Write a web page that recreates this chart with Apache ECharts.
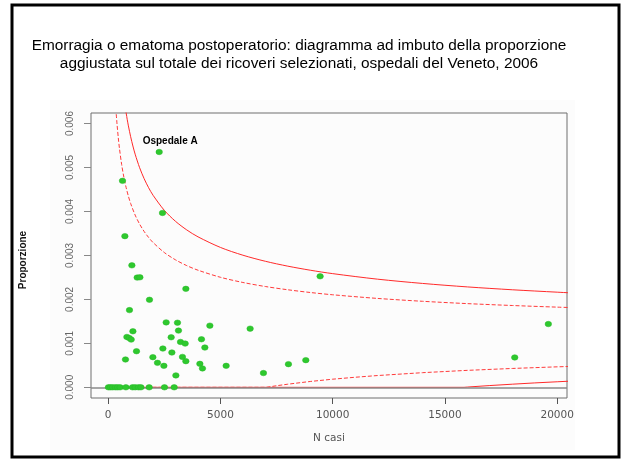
<!DOCTYPE html>
<html>
<head>
<meta charset="utf-8">
<script src="https://cdn.jsdelivr.net/npm/echarts@6/dist/echarts.min.js"></script>
<style>
  html, body { margin: 0; padding: 0; background: #ffffff; }
  #chart { width: 623px; height: 461px; }
</style>
</head>
<body>
<div id="chart"></div>
<script>
// Hospitals: number of cases and adjusted proportion of postoperative haemorrhage/haematoma
const hospitalCases = [
  10, 100, 200, 320, 420, 530, 788, 1082, 1202, 1349, 1456, 1825, 2507, 2939,
  2271, 637, 2418, 743, 1055, 1291, 1411, 3459, 1839, 948,
  2582, 3086, 4528, 6322, 1100, 3130, 832, 935, 1024, 2805,
  4154, 3220, 3428, 4305, 2435, 1260, 2836, 1990, 3308, 770,
  3459, 2195, 4083, 2480, 4199, 5254, 6915, 3014, 9439, 19604,
  8028, 8802, 18108
];
const hospitalRates = [
  0, 0, 0, 0, 0, 0, 0, 0, 0, 0, 0, 0, 0, 0,
  0.005353, 0.004697, 0.003966, 0.003439, 0.002774, 0.002496, 0.002502, 0.002240, 0.001991, 0.001756,
  0.001477, 0.001470, 0.001403, 0.001335, 0.001274, 0.001290, 0.001145, 0.001122, 0.001086, 0.001138,
  0.001093, 0.001032, 0.000995, 0.000905, 0.000882, 0.000821, 0.000792, 0.000686, 0.000692, 0.000633,
  0.000595, 0.000557, 0.000534, 0.000489, 0.000430, 0.000489, 0.000324, 0.000271, 0.002525, 0.001439,
  0.000527, 0.000618, 0.000679
];
const hospitalNames = hospitalCases.map((_, i) => i === 14 ? 'Ospedale A' : '');

// Overall regional proportion (reference line)
const overallRate = 0.001145;

// Funnel limits: [number of cases, proportion]
const upperOuter = [
  [760, 0.006371], [800, 0.006239], [850, 0.006086], [900, 0.005947], [1000, 0.005701],
  [1100, 0.005489], [1200, 0.005304], [1400, 0.004995], [1600, 0.004747], [1800, 0.004541],
  [2000, 0.004367], [2500, 0.004026], [3000, 0.003775], [3500, 0.003580], [4000, 0.003423],
  [5000, 0.003182], [6000, 0.003005], [7000, 0.002867], [8000, 0.002756], [9000, 0.002664],
  [10000, 0.002586], [12000, 0.002460], [14000, 0.002363], [16000, 0.002284], [18000, 0.002219],
  [20000, 0.002164], [21000, 0.002139]
];
const upperInner = [
  [340, 0.006354], [360, 0.006207], [380, 0.006072], [400, 0.005947], [450, 0.005673],
  [500, 0.005440], [600, 0.005066], [700, 0.004775], [800, 0.004541], [900, 0.004346],
  [1000, 0.004182], [1200, 0.003918], [1400, 0.003712], [1600, 0.003546], [1800, 0.003409],
  [2000, 0.003293], [2500, 0.003066], [3000, 0.002899], [3500, 0.002768], [4000, 0.002664],
  [5000, 0.002503], [6000, 0.002385], [7000, 0.002293], [8000, 0.002219], [9000, 0.002157],
  [10000, 0.002105], [12000, 0.002022], [14000, 0.001957], [16000, 0.001904], [18000, 0.001861],
  [20000, 0.001824], [21000, 0.001808]
];
const lowerInner = [
  [100, 0], [7040, 0], [7500, 0.000036], [8000, 0.000071], [9000, 0.000133],
  [10000, 0.000185], [11000, 0.000229], [12000, 0.000268], [14000, 0.000333],
  [16000, 0.000386], [18000, 0.000429], [20000, 0.000466], [21000, 0.000482]
];
const lowerOuter = [
  [100, 0], [15850, 0], [16000, 0.000006], [17000, 0.000040], [18000, 0.000071],
  [19000, 0.000100], [20000, 0.000126], [21000, 0.000151]
];

// Axis ticks
const xTicks = [0, 5000, 10000, 15000, 20000];
const yTicks = [0, 0.001, 0.002, 0.003, 0.004, 0.005, 0.006];

const chart = echarts.init(document.getElementById('chart'), null, { renderer: 'canvas' });

const points = hospitalCases.map((n, i) => ({
  value: [n, hospitalRates[i]],
  name: hospitalNames[i],
  label: hospitalNames[i] ? {
    show: true,
    formatter: '{b}',
    position: 'top',
    distance: 3,
    offset: [11, 0],
    fontFamily: 'Liberation Sans',
    fontWeight: 'bold',
    fontSize: 10,
    color: '#000'
  } : { show: false }
}));

const solidLimit = { color: '#ff2a2a', width: 1, type: 'solid' };
const dashedLimit = { color: '#ff3a3a', width: 1, type: [4, 2] };

chart.setOption({
  animation: false,
  backgroundColor: '#ffffff',
  textStyle: { fontFamily: 'Liberation Sans' },
  graphic: [
    {
      type: 'rect', z: -20,
      shape: { x: 50, y: 100, width: 525, height: 350 },
      style: { fill: '#fcfcfc' }
    },
    {
      type: 'rect', z: 100,
      shape: { x: 12, y: 5, width: 607, height: 452 },
      style: { fill: 'none', stroke: '#000', lineWidth: 3 }
    },
    {
      type: 'text', z: 50,
      x: 23, y: 260,
      rotation: Math.PI / 2,
      style: {
        text: 'Proporzione',
        fontFamily: 'Liberation Sans',
        fontWeight: 'bold',
        fontSize: 10,
        fill: '#111',
        align: 'center',
        verticalAlign: 'middle'
      }
    }
  ],
  title: {
    text: 'Emorragia o ematoma postoperatorio: diagramma ad imbuto della proporzione\naggiustata sul totale dei ricoveri selezionati, ospedali del Veneto, 2006',
    left: 294,
    top: 32,
    textAlign: 'center',
    textStyle: {
      fontFamily: 'Liberation Sans',
      fontSize: 15.4,
      fontWeight: 'normal',
      color: '#000',
      lineHeight: 18
    }
  },
  grid: {
    left: 91, right: 56, top: 113, bottom: 63,
    show: true,
    borderColor: '#6e6e6e',
    borderWidth: 1,
    backgroundColor: 'transparent',
    containLabel: false
  },
  xAxis: {
    type: 'value',
    min: -766,
    max: 20436,
    name: 'N casi',
    nameLocation: 'middle',
    nameGap: 35,
    nameTextStyle: { fontFamily: 'DejaVu Sans', fontSize: 10.5, color: '#555' },
    axisLine: { show: false, onZero: false },
    splitLine: { show: false },
    axisTick: { show: true, inside: false, length: 6, customValues: xTicks, lineStyle: { color: '#555', width: 1 } },
    axisLabel: {
      customValues: xTicks,
      margin: 12,
      fontFamily: 'DejaVu Sans',
      fontSize: 10.5,
      color: '#555',
      formatter: v => String(v)
    }
  },
  yAxis: {
    type: 'value',
    min: -0.000243,
    max: 0.00624,
    axisLine: { show: false, onZero: false },
    splitLine: { show: false },
    axisTick: { show: true, inside: false, length: 7, customValues: yTicks, lineStyle: { color: '#888', width: 1 } },
    axisLabel: {
      customValues: yTicks,
      rotate: 90,
      margin: 16,
      fontFamily: 'Liberation Sans',
      fontSize: 10,
      color: '#666',
      formatter: v => v.toFixed(3)
    }
  },
  series: [
    {
      type: 'line', data: lowerOuter, showSymbol: false, symbol: 'none',
      lineStyle: solidLimit, z: 3, silent: true
    },
    {
      type: 'line', data: lowerInner, showSymbol: false, symbol: 'none',
      lineStyle: dashedLimit, z: 3, silent: true
    },
    {
      type: 'line', data: upperOuter, showSymbol: false, symbol: 'none', smooth: 0.3,
      lineStyle: solidLimit, z: 3, silent: true
    },
    {
      type: 'line', data: upperInner, showSymbol: false, symbol: 'none', smooth: 0.3,
      lineStyle: dashedLimit, z: 3, silent: true
    },
    {
      type: 'scatter',
      data: points,
      symbol: 'circle',
      symbolSize: [6.5, 5.5],
      itemStyle: { color: '#2ec82e', borderColor: '#27b827', borderWidth: 0.5, opacity: 1 },
      z: 5,
      markLine: {
        silent: true,
        symbol: 'none',
        label: { show: false },
        lineStyle: { color: '#8a8a8a', width: 1.5, type: 'solid' },
        data: [{ yAxis: overallRate }]
      }
    }
  ]
});
</script>
</body>
</html>
